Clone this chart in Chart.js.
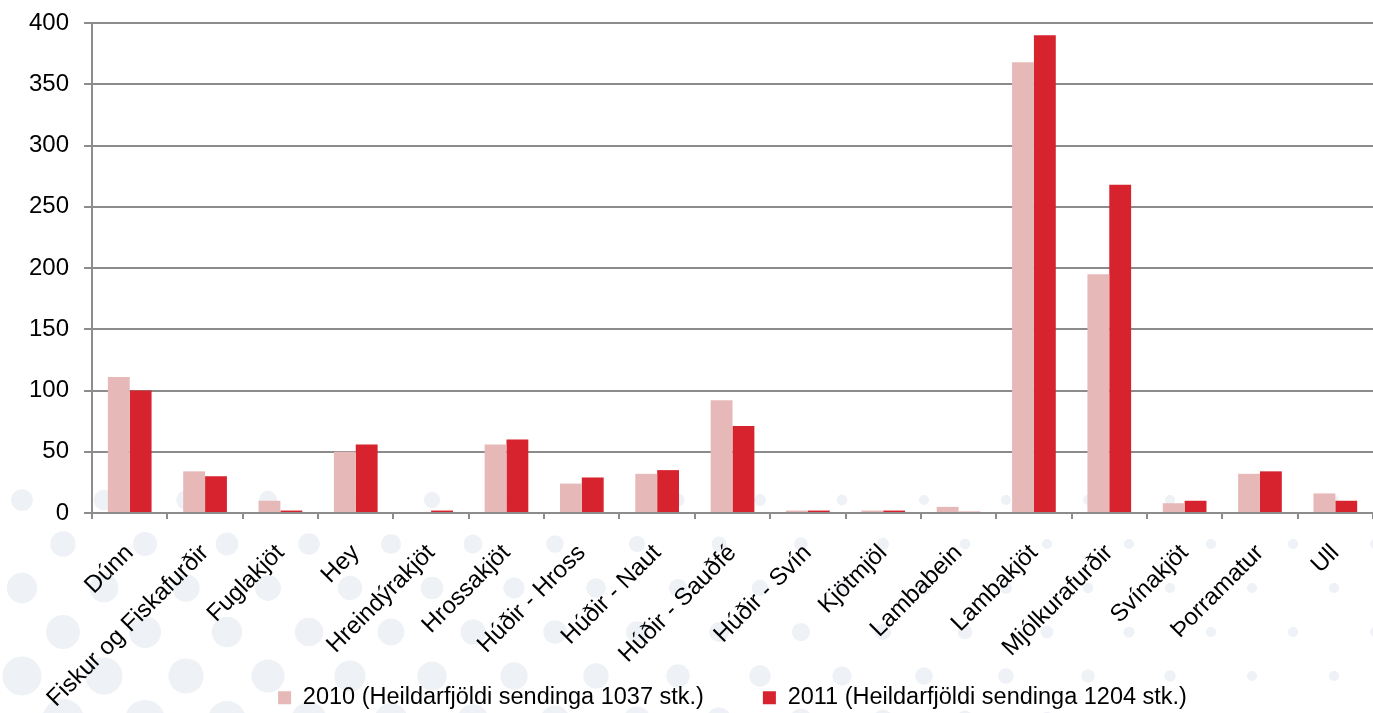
<!DOCTYPE html>
<html>
<head>
<meta charset="utf-8">
<script src="https://cdn.jsdelivr.net/npm/chart.js@4/dist/chart.umd.min.js"></script>
<style>
  html, body { margin: 0; padding: 0; background: #fff; }
  #wrap { width: 1373px; height: 713px; position: relative; }
</style>
</head>
<body>
<div id="wrap"><canvas id="chart"></canvas></div>
<script>
// flokkar og gildi (lesin af myndinni)
const categories = ['Dúnn', 'Fiskur og Fiskafurðir', 'Fuglakjöt', 'Hey', 'Hreindýrakjöt', 'Hrossakjöt',
    'Húðir - Hross', 'Húðir - Naut', 'Húðir - Sauðfé', 'Húðir - Svín', 'Kjötmjöl', 'Lambabein',
    'Lambakjöt', 'Mjólkurafurðir', 'Svínakjöt', 'Þorramatur', 'Ull'];
const values2010 = [111, 34, 10, 50, 0, 56, 24, 32, 92, 2, 2, 5, 368, 195, 8, 32, 16];
const values2011 = [100, 30, 2, 56, 2, 60, 29, 35, 71, 2, 2, 1, 390, 268, 10, 34, 10];
const seriesLabels = ['2010 (Heildarfjöldi sendinga 1037 stk.)', '2011 (Heildarfjöldi sendinga 1204 stk.)'];
const yTicks = [0, 50, 100, 150, 200, 250, 300, 350, 400];

// ljósir punktar í bakgrunni (bara skraut)
const dotsPlugin = {
    id: 'dots',
    beforeDraw(chart) {
        const ctx = chart.ctx;
        ctx.save();
        ctx.fillStyle = '#eef1f5';
        for (let row = 0; row < 6; row++) {
            const y = 500 + row * 44;
            for (let col = 0; col < 18; col++) {
                const x = 22 + col * 82 + (row % 2) * 41;
                const r = Math.max(5, (22 - x / 75) * (0.5 + row * 0.1));
                ctx.beginPath();
                ctx.arc(x, y, r, 0, Math.PI * 2);
                ctx.fill();
            }
        }
        ctx.restore();
    }
};

// legend og x-ás skarast eins og á myndinni: legend fær fasta hæð, x-ás klippir ekki merkin
const overlapPlugin = {
    id: 'overlap',
    afterInit(chart) {
        const legend = chart.legend;
        const fit = legend.fit.bind(legend);
        legend.fit = function () { fit(); this.height = 86; };
    },
    beforeDraw(chart) {
        chart.scales.x._computeLabelArea = () => undefined;
    }
};

const ctx = document.getElementById('chart').getContext('2d');
new Chart(ctx, {
    type: 'bar',
    data: {
        labels: categories,
        datasets: [{
            label: seriesLabels[0],
            data: values2010,
            backgroundColor: '#e6b9b8',
            categoryPercentage: 0.58,
            barPercentage: 1.0
        }, {
            label: seriesLabels[1],
            data: values2011,
            backgroundColor: '#d6232d',
            categoryPercentage: 0.58,
            barPercentage: 1.0
        }]
    },
    options: {
        responsive: true,
        maintainAspectRatio: false,
        animation: false,
        layout: { padding: { top: 0, right: 0, left: 14, bottom: 0 } },
        scales: {
            x: {
                afterFit(axis) { axis.height = 114; axis.paddingRight = 0; },
                grid: { drawOnChartArea: false, drawTicks: true, tickLength: 6, color: '#8c8c8c', lineWidth: 2 },
                border: { color: '#8c8c8c', width: 2 },
                ticks: {
                    color: '#000',
                    font: { family: 'Liberation Sans, Arial', size: 24 },
                    minRotation: 45,
                    maxRotation: 45,
                    autoSkip: false,
                    padding: 20
                }
            },
            y: {
                min: 0,
                max: 400,
                afterBuildTicks(axis) { axis.ticks = yTicks.map(v => ({ value: v })); },
                afterFit(axis) { axis.paddingTop = 23; },
                grid: { color: '#8c8c8c', lineWidth: 2, tickLength: 8 },
                border: { color: '#8c8c8c', width: 2 },
                ticks: {
                    color: '#000',
                    font: { family: 'Liberation Sans, Arial', size: 24 },
                    padding: 15
                }
            }
        },
        plugins: {
            legend: {
                position: 'bottom',
                fullSize: false,
                labels: {
                    color: '#000',
                    font: { family: 'Liberation Sans, Arial', size: 23.5 },
                    boxWidth: 13,
                    boxHeight: 13,
                    padding: 59
                }
            },
            tooltip: { enabled: false }
        }
    },
    plugins: [dotsPlugin, overlapPlugin]
});
</script>
</body>
</html>
